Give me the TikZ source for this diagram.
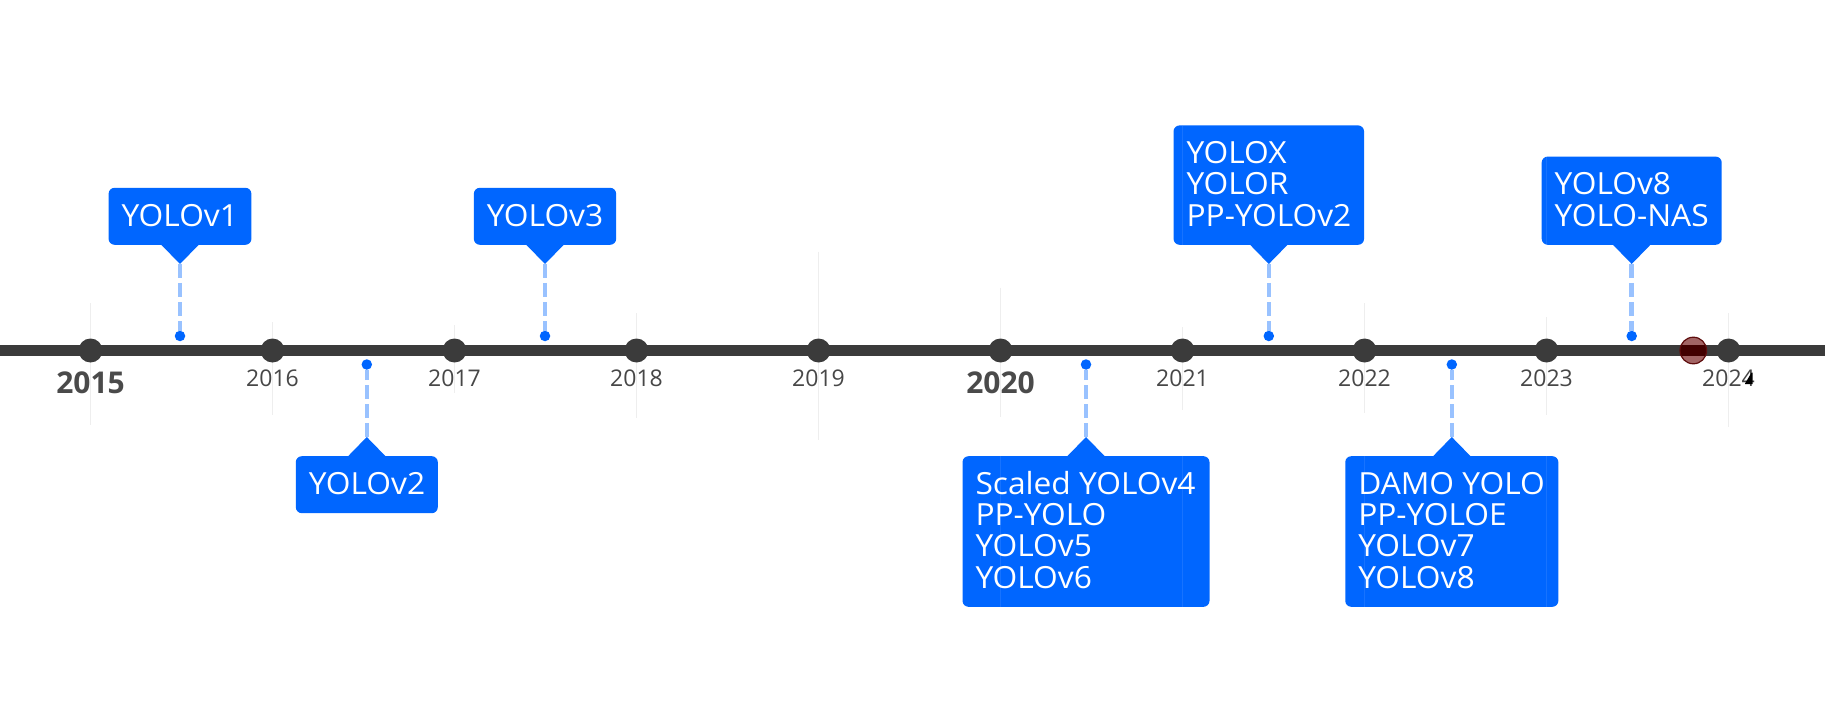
\documentclass[tikz,border=0pt]{standalone}
\usepackage{fontspec}
\setmainfont{Open Sans}
\newfontfamily\callfont[FakeStretch=1.04]{Open Sans}
\usetikzlibrary{calc}
\definecolor{axisgray}{HTML}{3B3B3B}
\definecolor{yeargray}{HTML}{474747}
\definecolor{yearbold}{HTML}{4A4A4A}
\definecolor{boxblue}{HTML}{0066FF}
\definecolor{dashblue}{HTML}{99C2FF}
\definecolor{gridgray}{HTML}{EEEEEE}
\definecolor{roseA}{HTML}{A26464}
\definecolor{maroonD}{HTML}{420000}
\definecolor{maroonB}{HTML}{5E0C0C}
\tikzset{
  gridline/.style={draw=gridgray, line width=1.5pt},
  boxgrid/.style={draw=white, draw opacity=0.09, line width=1.5pt},
  axisline/.style={draw=axisgray, line width=11.6pt},
  yeardot/.style={circle, fill=axisgray, minimum size=24pt, inner sep=0pt},
  yearlbl/.style={text=yeargray, font=\fontsize{23}{23}\selectfont, inner sep=0pt, anchor=base},
  yearbig/.style={text=yearbold, font=\bfseries\fontsize{30}{30}\selectfont, inner sep=0pt, anchor=base},
  evdot/.style={circle, fill=boxblue, minimum size=10.5pt, inner sep=0pt},
  dashconn/.style={draw=dashblue, line width=4.5pt, dash pattern=on 14pt off 5pt},
  callbox/.style={rectangle, fill=boxblue, rounded corners=6pt, inner sep=0pt},
  calltext/.style={text=white, font=\callfont\fontsize{30.5}{31.2}\selectfont, inner sep=0pt, anchor=base west},
  nowmark/.style={circle, minimum size=26.6pt, inner sep=0pt, fill=roseA, draw=maroonB, line width=1.2pt,
    path picture={\fill[maroonD] ($(path picture bounding box.west)+(0,-5.8)$) rectangle ($(path picture bounding box.east)+(0,5.8)$);}}
}
\begin{document}
\begin{tikzpicture}[x=1pt,y=-1pt]
\useasboundingbox[fill=white] (0,0) rectangle (1825,711);
% faint grid lines
\foreach \gx/\ga/\gb in {90.5/303/425, 272.5/322/415, 454.5/325/393, 636.5/313/418, 818.5/252/440, 1000.5/288/417, 1182.5/327/410, 1364.5/303/413, 1546.5/317/415, 1728.5/313/427}
  \draw[gridline] (\gx,\ga) -- (\gx,\gb);
% axis
\coordinate (axL) at (0,350.5);
\coordinate (axR) at (1825,350.5);
\draw[axisline] (axL) -- (axR);
% year dots
\foreach \yr/\gx in {2015/90.5, 2016/272.5, 2017/454.5, 2018/636.5, 2019/818.5, 2020/1000.5, 2021/1182.5, 2022/1364.5, 2023/1546.5, 2024/1728.5}
  \node[yeardot] (y\yr) at (\gx,350.5) {};
% year labels
\node[yearbig] (l2015) at (90.5,393.3) {2015};
\node[yearlbl] (l2016) at (272.5,386.7) {2016};
\node[yearlbl] (l2017) at (454.5,386.7) {2017};
\node[yearlbl] (l2018) at (636.5,386.7) {2018};
\node[yearlbl] (l2019) at (818.5,386.7) {2019};
\node[yearbig] (l2020) at (1000.5,393.3) {2020};
\node[yearlbl] (l2021) at (1182.5,386.7) {2021};
\node[yearlbl] (l2022) at (1364.5,386.7) {2022};
\node[yearlbl] (l2023) at (1546.5,386.7) {2023};
\node[yearlbl] (l2024) at (1728.5,386.7) {2024};
\fill[black] (1745,383.5) -- (1751.5,372.7) -- (1752.7,372.7) -- (1752.7,384) -- (1745,384) -- cycle;
% current-time marker
\node[nowmark] (now) at (1693.3,350.5) {};
% event dots and tips
\node[evdot] (d1) at (180,336) {};
\node[evdot] (d2) at (366.8,364.5) {};
\node[evdot] (d3) at (545,336) {};
\node[evdot] (d4) at (1086,364.5) {};
\node[evdot] (d5) at (1268.8,336) {};
\node[evdot] (d6) at (1451.8,364.5) {};
\node[evdot] (d7) at (1631.7,336) {};
\coordinate (p1) at (180,264);
\coordinate (p2) at (366.8,437);
\coordinate (p3) at (545,264);
\coordinate (p4) at (1086,437);
\coordinate (p5) at (1268.8,264);
\coordinate (p6) at (1451.8,437);
\coordinate (p7) at (1631.7,264);
\foreach \i in {1,...,7} \draw[dashconn] (p\i) -- (d\i);
% boxes above
\node[callbox, minimum width=142.8pt, minimum height=57pt, anchor=south] (b1) at (180,245) {};
\node[callbox, minimum width=142.3pt, minimum height=57pt, anchor=south] (b3) at (545,245) {};
\node[callbox, minimum width=190.5pt, minimum height=119.4pt, anchor=south] (b5) at (1268.8,245) {};
\node[callbox, minimum width=180pt, minimum height=88.2pt, anchor=south] (b7) at (1631.7,245) {};
% boxes below
\node[callbox, minimum width=142pt, minimum height=57pt, anchor=north] (b2) at (366.8,456) {};
\node[callbox, minimum width=247pt, minimum height=150.6pt, anchor=north] (b4) at (1086,456) {};
\node[callbox, minimum width=213.1pt, minimum height=150.6pt, anchor=north] (b6) at (1451.8,456) {};
% pointers
\foreach \i in {1,3,5,7}
  \fill[boxblue] ($(p\i)+(-19,-19.5)$) -- (p\i) -- ($(p\i)+(19,-19.5)$) -- cycle;
\foreach \i in {2,4,6}
  \fill[boxblue] ($(p\i)+(-19,19.5)$) -- (p\i) -- ($(p\i)+(19,19.5)$) -- cycle;
% texts
\node[calltext] (t1a) at ($(b1.north west)+(13,38.5)$) {YOLOv1};
\node[calltext] (t2a) at ($(b2.north west)+(13,38.5)$) {YOLOv2};
\node[calltext] (t3a) at ($(b3.north west)+(13,38.5)$) {YOLOv3};
\node[calltext] (t4a) at ($(b4.north west)+(13,38.5)$) {Scaled YOLOv4};
\node[calltext] (t4b) at ($(b4.north west)+(13,69.7)$) {PP-YOLO};
\node[calltext] (t4c) at ($(b4.north west)+(13,100.9)$) {YOLOv5};
\node[calltext] (t4d) at ($(b4.north west)+(13,132.1)$) {YOLOv6};
\node[calltext] (t5a) at ($(b5.north west)+(13,38.5)$) {YOLOX};
\node[calltext] (t5b) at ($(b5.north west)+(13,69.7)$) {YOLOR};
\node[calltext] (t5c) at ($(b5.north west)+(13,100.9)$) {PP-YOLOv2};
\node[calltext] (t6a) at ($(b6.north west)+(13,38.5)$) {DAMO YOLO};
\node[calltext] (t6b) at ($(b6.north west)+(13,69.7)$) {PP-YOLOE};
\node[calltext] (t6c) at ($(b6.north west)+(13,100.9)$) {YOLOv7};
\node[calltext] (t6d) at ($(b6.north west)+(13,132.1)$) {YOLOv8};
\node[calltext] (t7a) at ($(b7.north west)+(13,38.5)$) {YOLOv8};
\node[calltext] (t7b) at ($(b7.north west)+(13,69.7)$) {YOLO-NAS};
% grid lines showing faintly through boxes
\draw[boxgrid] (1000.5,456) -- (1000.5,606.6);
\draw[boxgrid] (1182.5,456) -- (1182.5,606.6);
\draw[boxgrid] (1182.5,125.6) -- (1182.5,245);
\draw[boxgrid] (1364.5,456) -- (1364.5,606.6);
\draw[boxgrid] (1546.5,456) -- (1546.5,606.6);
\draw[boxgrid] (1546.5,156.8) -- (1546.5,245);
\end{tikzpicture}
\end{document}
